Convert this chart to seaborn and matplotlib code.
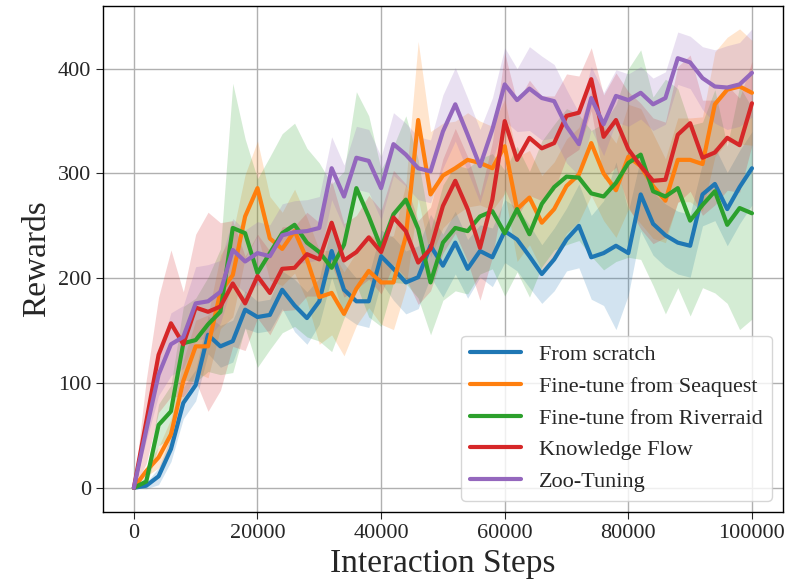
import numpy as np
import pandas as pd
import matplotlib
matplotlib.use("Agg")
import matplotlib.pyplot as plt
import seaborn as sns

steps = list(range(0, 100001, 2000))

methods = ["From scratch", "Fine-tune from Seaquest", "Fine-tune from Riverraid",
           "Knowledge Flow", "Zoo-Tuning"]

scratch = [0, 2, 11, 37, 81, 98, 146, 135, 140, 170, 163, 165, 189, 174, 162, 178, 226,
           189, 178, 178, 221, 209, 196, 201, 231, 212, 234, 209, 226, 220, 245, 237, 221,
           204, 218, 237, 250, 220, 224, 231, 224, 280, 252, 241, 234, 231, 280, 290, 266,
           287, 305]
seaquest = [0, 16, 29, 51, 102, 135, 135, 187, 203, 259, 286, 238, 228, 245, 218, 182, 186,
            166, 190, 207, 196, 196, 240, 351, 280, 298, 305, 313, 310, 305, 326, 266, 277,
            253, 266, 288, 299, 329, 300, 284, 316, 307, 288, 274, 313, 313, 309, 366, 380,
            383, 377]
riverraid = [0, 6, 60, 73, 138, 141, 156, 168, 248, 243, 205, 224, 243, 251, 234, 225, 210,
             232, 286, 259, 229, 261, 275, 247, 196, 234, 248, 245, 259, 264, 243, 266, 242,
             271, 287, 297, 296, 281, 278, 291, 310, 318, 283, 278, 286, 255, 270, 283, 251,
             267, 262]
kflow = [0, 63, 127, 157, 137, 172, 168, 173, 195, 176, 202, 186, 209, 210, 223, 218, 253,
         217, 225, 239, 225, 258, 245, 215, 228, 269, 293, 266, 229, 275, 350, 313, 334,
         324, 329, 355, 358, 390, 335, 351, 323, 307, 293, 294, 337, 348, 315, 320, 334,
         327, 367]
zoo = [0, 55, 108, 137, 144, 176, 178, 187, 227, 216, 224, 221, 241, 244, 245, 248, 305,
       278, 315, 312, 286, 328, 318, 305, 302, 340, 366, 337, 307, 342, 385, 370, 381, 372,
       369, 345, 328, 372, 347, 374, 370, 377, 366, 372, 410, 406, 391, 383, 382, 385, 396]

# half width of the shaded band
scratch_sd = [0, 3, 8, 12, 15, 15, 18, 20, 20, 18, 15, 15, 18, 25, 25, 22, 25, 25, 22, 25,
              25, 30, 30, 30, 30, 30, 30, 28, 25, 28, 30, 30, 30, 28, 30, 30, 40, 40, 50,
              80, 40, 35, 30, 30, 30, 30, 30, 35, 35, 35, 35]
seaquest_sd = [0, 5, 10, 15, 20, 25, 30, 35, 40, 40, 45, 40, 35, 40, 40, 45, 40, 40, 35, 35,
               40, 45, 50, 75, 60, 50, 45, 45, 40, 40, 45, 50, 45, 45, 45, 45, 45, 50, 45,
               45, 50, 55, 50, 40, 40, 40, 45, 50, 50, 55, 50]
riverraid_sd = [0, 5, 20, 25, 35, 40, 45, 60, 138, 90, 90, 92, 95, 97, 90, 85, 80, 70, 92,
                96, 75, 65, 80, 66, 50, 55, 60, 60, 55, 55, 60, 60, 60, 60, 60, 65, 60, 60,
                70, 75, 90, 100, 90, 112, 95, 91, 79, 97, 75, 116, 101]
kflow_sd = [0, 40, 55, 70, 50, 70, 95, 80, 60, 45, 40, 40, 40, 40, 40, 35, 40, 35, 35, 40,
            40, 45, 45, 40, 40, 45, 50, 50, 50, 55, 65, 55, 55, 50, 45, 40, 35, 30, 40, 45,
            55, 60, 60, 55, 65, 65, 55, 50, 50, 45, 40]
zoo_sd = [0, 10, 20, 30, 30, 35, 35, 30, 30, 30, 30, 30, 30, 30, 30, 30, 30, 30, 30, 30, 30,
          30, 30, 30, 30, 35, 35, 35, 35, 30, 35, 30, 40, 40, 35, 35, 30, 30, 30, 25, 25,
          25, 25, 25, 25, 25, 30, 35, 40, 40, 42]

means = [scratch, seaquest, riverraid, kflow, zoo]
spreads = [scratch_sd, seaquest_sd, riverraid_sd, kflow_sd, zoo_sd]

df = pd.concat([
    pd.DataFrame({"step": steps, "reward": m, "sd": s, "method": name})
    for name, m, s in zip(methods, means, spreads)
])

sns.set_style("ticks", {"axes.grid": True, "grid.color": "#b0b0b0",
                        "axes.edgecolor": "black"})
plt.rcParams["font.family"] = ["Liberation Serif", "DejaVu Serif"]

colors = sns.color_palette("tab10", 5)

fig = plt.figure(figsize=(7.86, 5.87), dpi=100)
ax = fig.add_axes([0.131, 0.128, 0.865, 0.862])

for name, c in zip(methods, colors):
    d = df[df["method"] == name]
    ax.fill_between(d["step"], d["reward"] - d["sd"], d["reward"] + d["sd"],
                    color=c, alpha=0.2, linewidth=0)

sns.lineplot(data=df, x="step", y="reward", hue="method", palette=colors,
             hue_order=methods, linewidth=3, ax=ax)

ax.set_xlabel("Interaction Steps", fontsize=24)
ax.set_ylabel("Rewards", fontsize=24)
ax.tick_params(labelsize=16, length=5, width=0.8)
ax.set_xticks([0, 20000, 40000, 60000, 80000, 100000])
ax.set_yticks([0, 100, 200, 300, 400])
ax.grid(True, linewidth=1)
for sp in ax.spines.values():
    sp.set_linewidth(1)

ax.legend(loc="lower right", fontsize=16, handlelength=2.3, title=None)

fig.savefig("out.png", dpi=100)
